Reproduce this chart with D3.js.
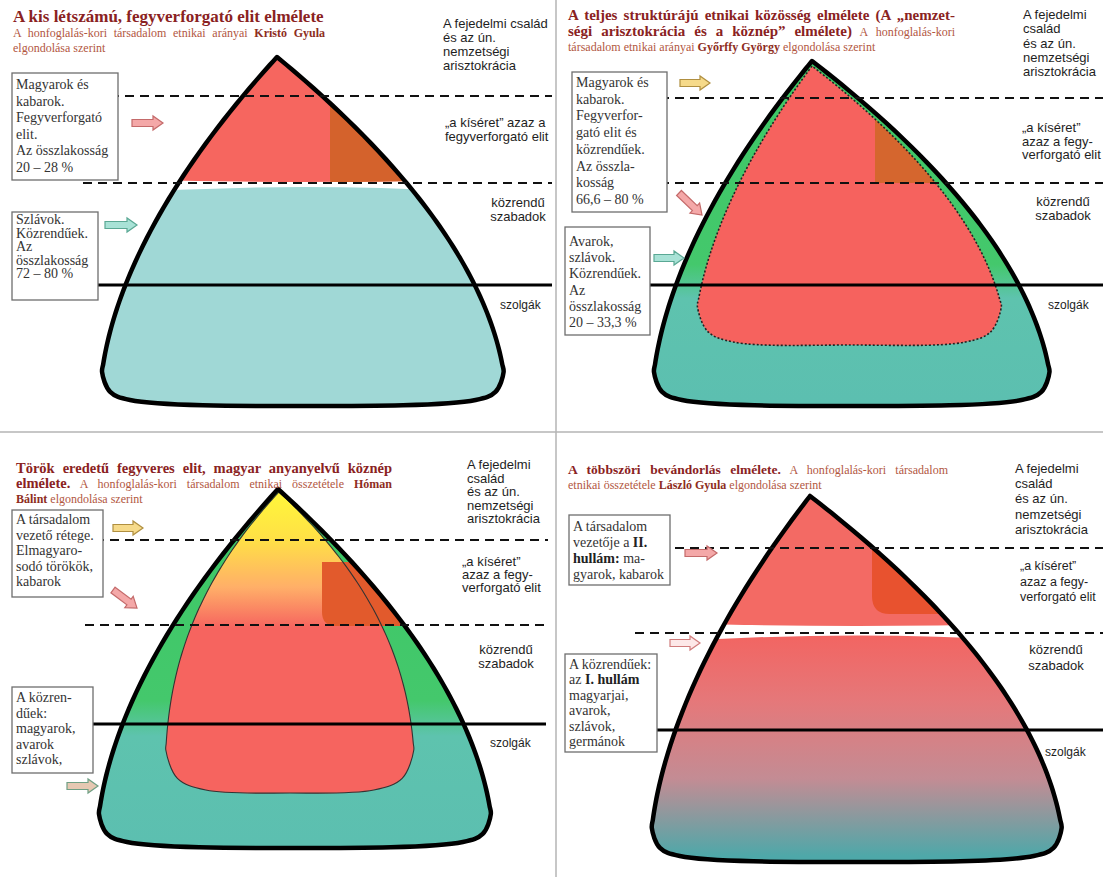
<!DOCTYPE html>
<html>
<head>
<meta charset="utf-8">
<script src="https://cdn.jsdelivr.net/npm/d3@7"></script>
<style>
  body { margin: 0; background: #fff; }
  svg { display: block; }
</style>
</head>
<body>
<svg id="chart" width="1103" height="877"></svg>
<script>
// Négy elmélet a honfoglalás-kori társadalomról — kúp-diagramok

// ---- texts ----
// title segments: h = heading, n = normal, b = bold name
const titleLines = [
  [[["A kis létszámú, fegyverforgató elit elmélete", "h"]],
   [["A honfoglalás-kori társadalom etnikai arányai ", "n"], ["Kristó Gyula", "b"]],
   [["elgondolása szerint", "n"]]],
  [[["A teljes struktúrájú etnikai közösség elmélete (A „nemzet-", "h"]],
   [["ségi arisztokrácia és a köznép” elmélete)", "h"], [" A honfoglalás-kori", "n"]],
   [["társadalom etnikai arányai ", "n"], ["Győrffy György", "b"], [" elgondolása szerint", "n"]]],
  [[["Török eredetű fegyveres elit, magyar anyanyelvű köznép", "h"]],
   [["elmélete.", "h"], [" A honfoglalás-kori társadalom etnikai összetétele ", "n"], ["Hóman", "b"]],
   [["Bálint", "b"], [" elgondolása szerint", "n"]]],
  [[["A többszöri bevándorlás elmélete.", "h"], [" A honfoglalás-kori társadalom", "n"]],
   [["etnikai összetétele ", "n"], ["László Gyula", "b"], [" elgondolása szerint", "n"]]]
];

const sideLabels = [
  [["A fejedelmi család", "és az ún.", "nemzetségi", "arisztokrácia"],
   ["„a kíséret” azaz a", "fegyverforgató elit"], ["közrendű", "szabadok"], ["szolgák"]],
  [["A fejedelmi", "család", "és az ún.", "nemzetségi", "arisztokrácia"],
   ["„a kíséret”", "azaz a fegy-", "verforgató elit"], ["közrendű", "szabadok"], ["szolgák"]],
  [["A fejedelmi", "család", "és az ún.", "nemzetségi", "arisztokrácia"],
   ["„a kíséret”", "azaz a fegy-", "verforgató elit"], ["közrendű", "szabadok"], ["szolgák"]],
  [["A fejedelmi", "család", "és az ún.", "nemzetségi", "arisztokrácia"],
   ["„a kíséret”", "azaz a fegy-", "verforgató elit"], ["közrendű", "szabadok"], ["szolgák"]]
];

// *...* = bold
const boxTexts = [
  ["Magyarok és", "kabarok.", "Fegyverforgató", "elit.", "Az összlakosság", "20 – 28 %"],
  ["Szlávok.", "Közrendűek.", "Az", "összlakosság", "72 – 80 %"],
  ["Magyarok és", "kabarok.", "Fegyverfor-", "gató elit és", "közrendűek.", "Az összla-", "kosság", "66,6 – 80 %"],
  ["Avarok,", "szlávok.", "Közrendűek.", "Az", "összlakosság", "20 – 33,3 %"],
  ["A társadalom", "vezető rétege.", "Elmagyaro-", "sodó törökök,", "kabarok"],
  ["A közren-", "dűek:", "magyarok,", "avarok", "szlávok,"],
  ["A társadalom", "vezetője a *II.*", "*hullám:*  ma-", "gyarok, kabarok"],
  ["A közrendűek:", "az *I. hullám*", "magyarjai,", "avarok,", "szlávok,", "germánok"]
];

// ---- layout ----
// cone: [apexX, apexY, baseCenterX, baseY, halfWidth, cornerR, bulge, exponent]
const cones = [
  [277, 57, 303, 400, 203, 28, 6, 1.8],
  [812, 61, 852, 400, 200, 28, 6, 1.8],
  [278, 489, 295, 842, 198, 28, 6, 1.8],
  [810, 496, 857, 856, 207, 28, 6, 1.8]
];
const innerCores = [null, [812, 66, 850, 342, 156, 36, 3, 1.8], [279, 492, 290, 790, 125, 40, 3, 2.4], null];

// level lines: [y, x0, x1]
const dashed1 = [[96, 20, 552], [98, 600, 1103], [540, 20, 548], [548, 600, 1103]];
const dashed2 = [[183, 83, 552], [183, 600, 1103], [625, 85, 548], [633, 635, 1103]];
const solid = [[285, 90, 552], [285, 640, 1103], [724, 90, 546], [730, 640, 1103]];

// titles: [x, firstBaseline, lineHeight], heading size, justified right edge per line
const titlePos = [[13, 22, 15], [568, 20, 15.5], [16, 473, 15], [568, 474, 15]];
const titleSize = [17, 15, 14.5, 13.5];
const titleJustify = [[null, 325, null], [955, 955, null], [392, 392, null], [948, null]];

// side label groups: [x, firstBaseline, lineHeight, anchor, size]
const sidePos = [
  [[443, 28, 14], [445, 127, 14], [518, 207, 14, "middle"], [500, 309, 14, "start", 12]],
  [[1023, 19, 14.3], [1022, 132, 13.5], [1063, 206, 13.5, "middle"], [1048, 309, 14, "start", 12]],
  [[467, 469, 13.5], [462, 566, 13], [506, 654, 13.5, "middle"], [490, 747, 14, "start", 12]],
  [[1015, 473, 15.2], [1020, 570, 15.5, "start", 12.5], [1056, 654, 16, "middle"], [1045, 756, 14, "start", 12]]
];

// boxes: [x, y, w, h, firstBaseline, lineHeight]
const boxes = [
  [12, 73, 106, 107, 89, 16.6],
  [12, 212, 86, 88, 224, 13.5],
  [572, 72, 95, 140, 87, 16.7],
  [565, 227, 85, 108, 246, 16.2],
  [12, 510, 91, 87, 524, 15.5],
  [12, 687, 81, 86, 702, 15.5],
  [569, 515, 101, 70, 531, 16],
  [565, 654, 92, 98, 669, 15.4]
];

// arrows: [x0, y0, x1, y1, kind]
const arrows = [
  [132, 123, 163, 123, "pink"], [105, 225, 137, 225, "teal"],
  [680, 83, 710, 83, "yellow"], [679, 193, 702, 215, "pink"], [654, 258, 684, 258, "teal"],
  [113, 528, 143, 528, "yellow"], [113, 590, 137, 608, "pink"], [67, 786, 98, 786, "tan"],
  [685, 553, 717, 553, "pink"], [670, 643, 700, 643, "pale"]
];
const arrowColors = {
  pink: ["#F4A8A8", "#C46A6A"], teal: ["#A8E2D6", "#5AA894"], yellow: ["#F6DA8A", "#B08F40"],
  tan: ["#E6C8B2", "#6F9F84"], pale: ["#FDE8E8", "#D07C7C"]
};

const serif = "'Liberation Serif','Times New Roman',serif";
const sans = "'Liberation Sans',Arial,sans-serif";

const svg = d3.select("#chart");
const defs = svg.append("defs");

// cone outline built from a height scale and a parabolic half-width profile
function shapePath([ax, ay, cx, by, W, r, bulge, p]) {
  const y = d3.scaleLinear().domain([0, 1]).range([ay, by]);
  const half = t => W * (1 - Math.pow(1 - t, p));
  const mid = t => cx + (ax - cx) * Math.pow(1 - t, 2);
  const tEnd = y.invert(by - r);
  const ts = d3.range(0, 41).map(k => k / 40 * tEnd);
  const lx = mid(tEnd) - half(tEnd), rx = mid(tEnd) + half(tEnd);
  const left = ts.map(t => [mid(t) - half(t), y(t)]);
  const right = ts.slice(1).map(t => [mid(t) + half(t), y(t)]).reverse();
  const k = 0.29;
  const bottom = [
    [lx + r * k, by - r * k], [lx + r, by], [cx, by + bulge],
    [rx - r, by], [rx - r * k, by - r * k]
  ];
  return d3.line().curve(d3.curveCatmullRom)([...left, ...bottom, ...right]) + "Z";
}

function vGradient(id, y1, y2, stops) {
  const lg = defs.append("linearGradient").attr("id", id)
    .attr("gradientUnits", "userSpaceOnUse")
    .attr("x1", 0).attr("x2", 0).attr("y1", y1).attr("y2", y2);
  stops.forEach(([o, c]) => lg.append("stop").attr("offset", o).attr("stop-color", c));
}

function clip(id, d) {
  defs.append("clipPath").attr("id", id).append("path").attr("d", d);
  return `url(#${id})`;
}

// wedge with vertical left edge and rounded lower-left corner
function wedge(x, top, bottom, r, xr) {
  return `M${x},${top}H${xr}V${bottom}H${x + r}Q${x},${bottom} ${x},${bottom - r}Z`;
}

// ---- dividers ----
svg.append("line").attr("x1", 556).attr("x2", 556).attr("y1", 0).attr("y2", 877)
  .attr("stroke", "#b4b4b4").attr("stroke-width", 1.5);
svg.append("line").attr("x1", 0).attr("x2", 1103).attr("y1", 432).attr("y2", 432)
  .attr("stroke", "#b4b4b4").attr("stroke-width", 1.5);

// ---- cones ----
cones.forEach((c, i) => {
  const [ax, ay, cx, by, W] = c;
  const x0 = cx - W - 20, x1 = cx + W + 20;
  const outline = shapePath(c);
  const body = svg.append("g").attr("clip-path", clip("cone" + i, outline));

  if (!innerCores[i]) {
    // split cone: upper red cap, white gap, lower body
    const capEdge = i === 0 ? 178 : 622, capCtrl = i === 0 ? 186 : 630;
    const lowEdge = i === 0 ? 196 : 645, lowCtrl = i === 0 ? 178 : 626;
    const capD = `M${x0},${ay - 10}H${x1}V${capEdge}Q${cx},${capCtrl} ${x0},${capEdge}Z`;
    const lowD = `M${x0},${lowEdge}Q${cx},${lowCtrl} ${x1},${lowEdge}V${by + 20}H${x0}Z`;
    let lowFill = "#A0D8D6";
    if (i === 3) {
      vGradient("low3", 636, by, [[0, "#F26562"], [0.3, "#E5787A"], [0.65, "#C38C94"], [1, "#4EA8A9"]]);
      lowFill = "url(#low3)";
    }
    body.append("path").attr("d", capD).attr("fill", i === 0 ? "#F6665F" : "#F36A64");
    body.append("path").attr("d", lowD).attr("fill", lowFill);
    const capClip = clip("cap" + i, capD);
    const w = i === 0 ? [330, 97, 192, 14] : [872, 549, 614, 18];
    body.append("g").attr("clip-path", capClip).append("path")
      .attr("d", wedge(w[0], w[1], w[2], w[3], x1))
      .attr("fill", i === 0 ? "#D4622C" : "#E8522F");
  } else {
    // nested cone: green/teal outer band with an inner core
    vGradient("band" + i, ay, by, [[0, "#3CC865"], [0.6, "#44C86C"], [0.7, "#5EC3AE"], [1, "#5CBFB0"]]);
    body.append("rect").attr("x", x0).attr("y", ay - 10).attr("width", x1 - x0).attr("height", by - ay + 30)
      .attr("fill", `url(#band${i})`);
    const innerD = shapePath(innerCores[i]);
    let innerFill = "#F6625E";
    if (i === 2) {
      vGradient("core2", 492, 628, [[0, "#FFF73A"], [0.35, "#FFE046"], [0.7, "#FFAF68"], [1, "#F6645F"]]);
      innerFill = "url(#core2)";
    }
    body.append("path").attr("d", innerD).attr("fill", innerFill);
    const innerClip = clip("core" + i, innerD);
    const w = i === 1 ? [875, 98, 183, 0] : [322, 562, 626, 14];
    body.append("g").attr("clip-path", innerClip).append("path")
      .attr("d", wedge(w[0], w[1], w[2], w[3], x1))
      .attr("fill", i === 1 ? "#D5662E" : "#E25A2C");
    body.append("path").attr("d", innerD).attr("fill", "none")
      .attr("stroke", i === 1 ? "#222" : "#333")
      .attr("stroke-width", i === 1 ? 1.6 : 1.1)
      .attr("stroke-dasharray", i === 1 ? "2,2" : null);
  }

  svg.append("path").attr("d", outline).attr("fill", "none")
    .attr("stroke", "#000").attr("stroke-width", 4.5).attr("stroke-linejoin", "round");
});

// ---- level lines ----
svg.selectAll(".dash").data([...dashed1, ...dashed2]).join("line")
  .attr("class", "dash")
  .attr("x1", d => d[1]).attr("x2", d => d[2]).attr("y1", d => d[0]).attr("y2", d => d[0])
  .attr("stroke", "#111").attr("stroke-width", 2).attr("stroke-dasharray", "9,6");
svg.selectAll(".solid").data(solid).join("line")
  .attr("class", "solid")
  .attr("x1", d => d[1]).attr("x2", d => d[2]).attr("y1", d => d[0]).attr("y2", d => d[0])
  .attr("stroke", "#000").attr("stroke-width", 3);

// ---- boxes ----
boxes.forEach((b, i) => {
  const [x, y, w, h, base, lh] = b;
  svg.append("rect").attr("x", x).attr("y", y).attr("width", w).attr("height", h)
    .attr("fill", "#fff").attr("stroke", "#6e6e6e").attr("stroke-width", 1.3);
  boxTexts[i].forEach((line, j) => {
    const t = svg.append("text").attr("x", x + 4).attr("y", base + j * lh)
      .attr("font-family", serif).attr("font-size", 14).attr("fill", "#333");
    line.split("*").forEach((s, k) => {
      if (s) t.append("tspan").text(s).attr("font-weight", k % 2 ? "bold" : null)
        .attr("fill", k % 2 ? "#222" : null);
    });
  });
});

// ---- arrows ----
arrows.forEach(([xa, ya, xb, yb, kind]) => {
  const len = Math.hypot(xb - xa, yb - ya);
  const ang = Math.atan2(yb - ya, xb - xa) * 180 / Math.PI;
  const s = 3.5, hw = 7, hl = 10;
  const pts = [[0, -s], [len - hl, -s], [len - hl, -hw], [len, 0], [len - hl, hw], [len - hl, s], [0, s]];
  svg.append("path").attr("d", d3.line()(pts) + "Z")
    .attr("transform", `translate(${xa},${ya}) rotate(${ang})`)
    .attr("fill", arrowColors[kind][0]).attr("stroke", arrowColors[kind][1]).attr("stroke-width", 1.2);
});

// ---- titles (justified lines get extra word spacing) ----
const segStyle = {
  h: { w: "bold", c: "#8A2222" },
  n: { w: "normal", c: "#B2573F" },
  b: { w: "bold", c: "#8E2D22" }
};
titleLines.forEach((lines, i) => {
  const [x, y0, lh] = titlePos[i];
  lines.forEach((segs, j) => {
    const t = svg.append("text").attr("x", x).attr("y", y0 + j * lh).attr("font-family", serif);
    segs.forEach(([s, st]) => {
      t.append("tspan").text(s)
        .attr("font-size", st === "h" ? titleSize[i] : 12)
        .attr("font-weight", segStyle[st].w).attr("fill", segStyle[st].c);
    });
    const target = titleJustify[i][j];
    if (target) {
      const natural = t.node().getComputedTextLength();
      const spaces = segs.map(s => s[0]).join("").split(" ").length - 1;
      const extra = (target - x - natural) / spaces;
      if (extra > 0) t.attr("word-spacing", extra);
    }
  });
});

// ---- side labels ----
sideLabels.forEach((groups, i) => {
  groups.forEach((lines, j) => {
    const [x, y0, lh, anchor, size] = sidePos[i][j];
    svg.append("g").selectAll("text").data(lines).join("text")
      .attr("x", x).attr("y", (d, k) => y0 + k * lh)
      .attr("text-anchor", anchor || "start")
      .attr("font-family", sans).attr("font-size", size || 13).attr("fill", "#1e1e1e")
      .text(d => d);
  });
});
</script>
</body>
</html>
